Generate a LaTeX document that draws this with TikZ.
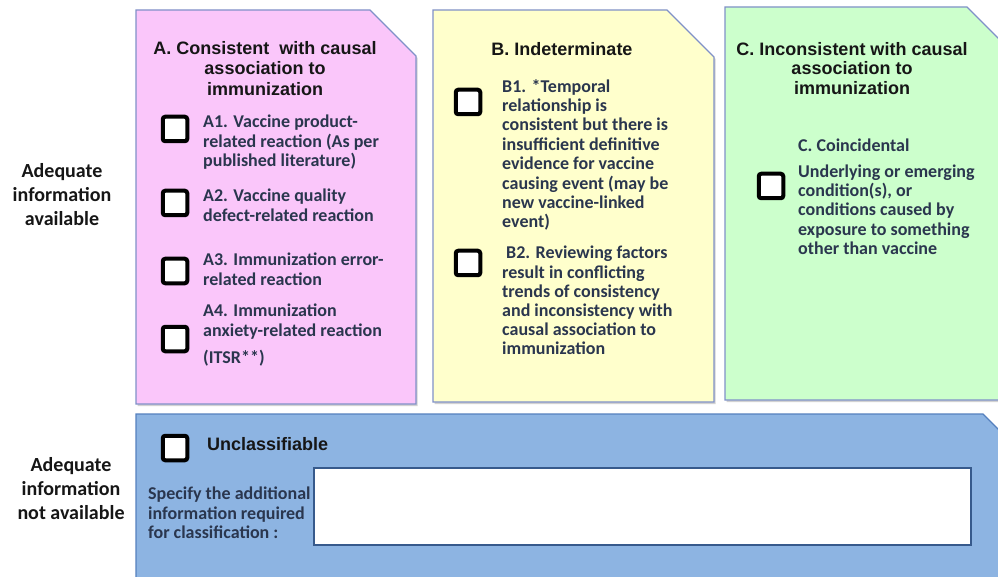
\documentclass[tikz,border=0pt]{standalone}
\usepackage{fontspec}
\setmainfont{Carlito}
\newfontfamily\arialf{Liberation Sans}
\usetikzlibrary{shadows}
\definecolor{pinkfill}{RGB}{250,198,250}
\definecolor{yellowfill}{RGB}{255,255,204}
\definecolor{greenfill}{RGB}{204,255,204}
\definecolor{bluefill}{RGB}{141,180,226}
\definecolor{panelborder}{RGB}{128,145,200}
\definecolor{blueborder}{RGB}{85,128,190}
\definecolor{boxborder}{RGB}{55,90,140}
\definecolor{bodytxt}{RGB}{42,54,78}
\definecolor{titletxt}{RGB}{22,22,22}
\begin{document}
\begin{tikzpicture}[x=1pt,y=-1pt,
  panel/.style={draw=panelborder, line width=1.2pt, drop shadow={shadow xshift=1.5pt, shadow yshift=-2pt, opacity=0.35}},
  chk/.style={draw=black, line width=4pt, fill=white, minimum size=24.5pt, inner sep=0pt, rounded corners=2.5pt,
    drop shadow={shadow xshift=1.5pt, shadow yshift=-1.5pt, opacity=0.45}},
  body/.style={inner sep=0pt, align=left, anchor=north west, text=bodytxt, font=\fontsize{18}{19.3}\selectfont\bfseries},
  ttl/.style={inner sep=0pt, align=center, anchor=north, text=titletxt, font=\arialf\fontsize{18}{20.5}\selectfont\bfseries},
  side/.style={inner sep=0pt, align=center, anchor=north, text=titletxt, font=\fontsize{20}{24}\selectfont\bfseries}]
\useasboundingbox (0,0) rectangle (998,577);
\fill[white] (0,0) rectangle (998,577);

% panels
\draw[panel, fill=pinkfill] (136,10) -- (370,10) -- (416,56) -- (416,404) -- (136,404) -- cycle;
\draw[panel, fill=yellowfill] (433,10) -- (667,10) -- (714,57) -- (714,402) -- (433,402) -- cycle;
\draw[panel, fill=greenfill] (725,7) -- (967,7) -- (1012,52) -- (1012,400) -- (725,400) -- cycle;
\draw[draw=blueborder, line width=1.2pt, fill=bluefill] (136,414) -- (983,414) -- (1015,446) -- (1015,600) -- (136,600) -- cycle;

% side labels
\node[side] (lblA) at (62,163) {Adequate\\information\\available};
\node[side] (lblN) at (71,457) {Adequate\\information\\not available};

% titles
\node[ttl] (tA) at (265,41) {A. Consistent\ \ with causal\\association to\\immunization};
\node[ttl] (tB) at (562,42) {B. Indeterminate};
\node[ttl, font=\arialf\fontsize{18}{19.5}\selectfont\bfseries] (tC) at (852,42) {C. Inconsistent with causal\\association to\\immunization};

% checkboxes
\node[chk] (cA1) at (175,129) {};
\node[chk] (cA2) at (175,203) {};
\node[chk] (cA3) at (175,271) {};
\node[chk] (cA4) at (175,339) {};
\node[chk] (cB1) at (468,102) {};
\node[chk] (cB2) at (468,263) {};
\node[chk] (cC) at (771,186) {};
\node[chk] (cU) at (175,448) {};

% A texts
\node[body] (xA1) at (203,115) {A1. Vaccine product-\\related reaction (As per\\published literature)};
\node[body] (xA2) at (203,189) {A2. Vaccine quality\\defect-related reaction};
\node[body] (xA3) at (203,253) {A3. Immunization error-\\related reaction};
\node[body] (xA4) at (203,304) {A4. Immunization\\anxiety-related reaction\\[8pt](ITSR**)};

% B texts
\node[body, font=\fontsize{18}{19.4}\selectfont\bfseries] (xB1) at (502,79) {B1. *Temporal\\relationship is\\consistent but there is\\insufficient definitive\\evidence for vaccine\\causing event (may be\\new vaccine-linked\\event)};
\node[body, font=\fontsize{18}{19.2}\selectfont\bfseries] (xB2) at (502,246) {\hspace{4pt}B2. Reviewing factors\\result in conflicting\\trends of consistency\\and inconsistency with\\causal association to\\immunization};

% C texts
\node[body] (xC) at (798,139) {C. Coincidental\\[6pt]Underlying or emerging\\condition(s), or\\conditions caused by\\exposure to something\\other than vaccine};

% unclassifiable
\node[ttl, anchor=north west] (tU) at (207,437) {Unclassifiable};
\node[body] (xS) at (148,487) {Specify the additional\\information required\\for classification :};
\node[draw=boxborder, line width=2pt, fill=white, minimum width=657pt, minimum height=77pt, inner sep=0pt, anchor=north west] (spec) at (313,467) {};
\end{tikzpicture}
\end{document}
